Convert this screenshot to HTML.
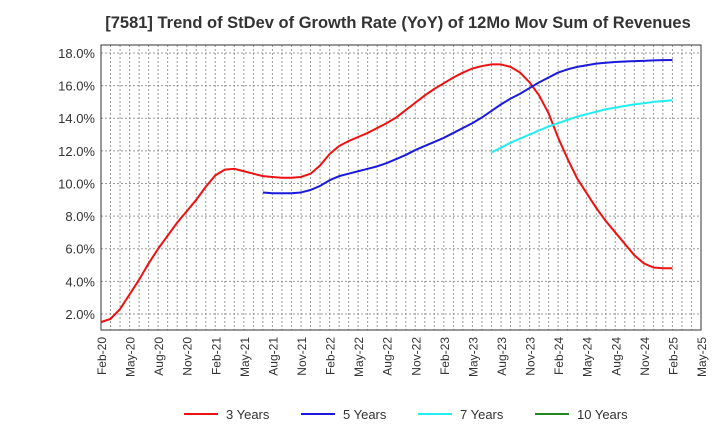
<!DOCTYPE html>
<html><head><meta charset="utf-8"><style>
body{margin:0;background:#fff;font-family:"Liberation Sans",sans-serif}
</style></head><body>
<svg id="c" width="720" height="440" xmlns="http://www.w3.org/2000/svg" font-family="Liberation Sans, sans-serif"></svg>
<script>
const xLabels=["Feb-20","May-20","Aug-20","Nov-20","Feb-21","May-21","Aug-21","Nov-21","Feb-22","May-22","Aug-22","Nov-22","Feb-23","May-23","Aug-23","Nov-23","Feb-24","May-24","Aug-24","Nov-24","Feb-25","May-25"];
const yTicks=[2,4,6,8,10,12,14,16,18];
const s3Start=0;
const s3=[1.5,1.7,2.3,3.2,4.1,5.1,6.0,6.8,7.6,8.3,9.0,9.8,10.5,10.85,10.9,10.75,10.6,10.45,10.4,10.35,10.35,10.4,10.6,11.1,11.8,12.3,12.6,12.85,13.1,13.4,13.7,14.05,14.5,14.95,15.4,15.8,16.15,16.5,16.8,17.05,17.2,17.3,17.3,17.15,16.8,16.2,15.4,14.3,12.8,11.5,10.3,9.4,8.5,7.7,7.0,6.3,5.6,5.1,4.85,4.8,4.8];
const s5Start=17;
const s5=[9.45,9.4,9.4,9.4,9.45,9.6,9.85,10.2,10.45,10.6,10.75,10.9,11.05,11.25,11.5,11.75,12.05,12.3,12.55,12.8,13.1,13.4,13.7,14.05,14.45,14.85,15.2,15.5,15.85,16.2,16.5,16.8,17.0,17.15,17.25,17.35,17.4,17.45,17.48,17.5,17.52,17.55,17.56,17.57];
const s7Start=41;
const s7=[11.9,12.2,12.5,12.75,13.0,13.25,13.5,13.7,13.9,14.1,14.25,14.4,14.55,14.65,14.75,14.85,14.92,15.0,15.05,15.1];
const svg=document.getElementById('c');const NS="http://www.w3.org/2000/svg";
const L=101,R=701,T=45,B=330;
const xs=i=>L+i*(R-L)/63;
const ys=v=>346.6-v*(346.6-53)/18;
function mk(t,a,p){const e=document.createElementNS(NS,t);for(const k in a)e.setAttribute(k,a[k]);(p||svg).appendChild(e);return e;}
let t=mk('text',{x:398,y:28,'text-anchor':'middle','font-size':16.5,'font-weight':'bold',fill:'#333'});


t.textContent='[7581]  Trend of StDev of Growth Rate (YoY) of 12Mo Mov Sum of Revenues';
for(let i=0;i<=63;i++){const g=mk('line',{x1:xs(i),x2:xs(i),y1:T,y2:B,stroke:'#999','stroke-dasharray':'2,2','stroke-width':1});

}
yTicks.forEach(v=>{const g=mk('line',{x1:L,x2:R,y1:ys(v),y2:ys(v),stroke:'#999','stroke-dasharray':'2,2'});


const l=mk('text',{x:L-6,y:ys(v)+5,'text-anchor':'end','font-size':13,fill:'#333'});


l.textContent=v.toFixed(1)+'%';});
const fr=mk('rect',{x:L,y:T,width:R-L,height:B-T,fill:'none',stroke:'#333'});


xLabels.forEach((s,i)=>{const x=xs(i*3);const l=mk('text',{x:0,y:0,transform:`translate(${x+5},${B+7}) rotate(-90)`,'text-anchor':'end','font-size':12,fill:'#333'});


l.textContent=s;});
function line(d,st,col,name){const p=mk('polyline',{points:d.map((v,i)=>xs(st+i)+','+ys(v)).join(' '),fill:'none',stroke:col,'stroke-width':2,'stroke-linejoin':'round'});

}
line(s3,s3Start,'#ee1111','series-3-years');
line(s5,s5Start,'#1a1add','series-5-years');
line(s7,s7Start,'#22eeee','series-7-years');
[['3 Years','#ee1111',184],['5 Years','#1a1add',301],['7 Years','#22eeee',418],['10 Years','#228822',535]].forEach(([n,c,x])=>{
const g=mk('g',{});


mk('line',{x1:x,x2:x+34,y1:414,y2:414,stroke:c,'stroke-width':2},g);
const tx=mk('text',{x:x+42,y:419,'font-size':13,fill:'#333'},g);tx.textContent=n;});
</script>
</body></html>
